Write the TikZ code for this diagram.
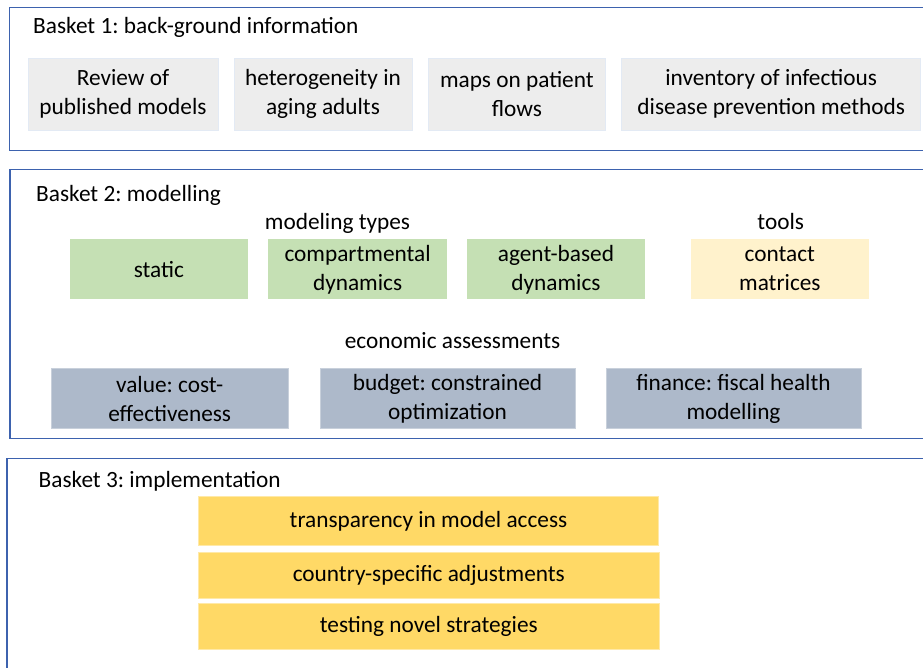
\documentclass[tikz,border=0pt]{standalone}
\usepackage{fontspec}
\setmainfont{Carlito}
\frenchspacing
\begin{document}
\begin{tikzpicture}[x=1pt,y=-1pt,
  frame/.style={draw=framecol,line width=1.2pt},
  box/.style={rectangle,inner sep=0pt,align=center,font=\fontsize{23.3}{29}\selectfont,text=black,line width=1pt},
  bgbox/.style={box,fill=bggrey,draw=bgedge},
  greenbox/.style={box,fill=greenfill,draw=greenfill},
  toolbox/.style={box,fill=toolfill,draw=toolfill},
  ecobox/.style={box,fill=ecofill,draw=ecoedge},
  implbox/.style={box,fill=implfill,draw=impledge},
  lbl/.style={inner sep=0pt,font=\fontsize{23.3}{29}\selectfont,text=black}]
\definecolor{framecol}{HTML}{3D62AE}
\definecolor{bggrey}{HTML}{EDEDED}
\definecolor{bgedge}{HTML}{E3EAF4}
\definecolor{greenfill}{HTML}{C5E0B4}
\definecolor{toolfill}{HTML}{FFF2CC}
\definecolor{ecofill}{HTML}{ADB9CA}
\definecolor{ecoedge}{HTML}{C8D0DB}
\definecolor{implfill}{HTML}{FFD966}
\definecolor{impledge}{HTML}{FFE9A8}
\useasboundingbox (0,0) rectangle (923,667);
\clip (0,0) rectangle (923,667);
\fill[white] (0,0) rectangle (923,667);

% frames
\draw[frame] (9.5,7.3) rectangle (940,150.7);
\draw[frame] (10,169.3) rectangle (940,438.3);
\draw[frame] (7,458.3) rectangle (940,690);

% Basket 1
\node[lbl,anchor=base west] (t1) at (33,33) {Basket 1: back-ground information};
\node[bgbox,minimum width=190pt,minimum height=72pt] (b11) at (123,94) {Review of\\published models};
\node[bgbox,minimum width=178pt,minimum height=72pt] (b12) at (323,94) {heterogeneity in\\aging adults};
\node[bgbox,minimum width=177.7pt,minimum height=72pt] (b13) at (516.85,94) {maps on patient\\flows};
\node[bgbox,minimum width=299pt,minimum height=72pt] (b14) at (771.2,94) {inventory of infectious\\disease prevention methods};

% Basket 2
\node[lbl,anchor=base west] (t2) at (36,201.7) {Basket 2: modelling};
\node[lbl,anchor=base] (mt) at (337.5,229.5) {modeling types};
\node[lbl,anchor=base] (tl) at (780.7,229.3) {tools};
\node[greenbox,minimum width=177.7pt,minimum height=59pt] (g1) at (158.85,269.3) {static};
\node[greenbox,minimum width=177.8pt,minimum height=59pt] (g2) at (357.6,269.3) {compartmental\\dynamics};
\node[greenbox,minimum width=177.4pt,minimum height=59pt] (g3) at (556,269.3) {agent-based\\dynamics};
\node[toolbox,minimum width=177.7pt,minimum height=58.7pt] (c1) at (779.85,268.8) {contact\\matrices};
\node[lbl,anchor=base] (ea) at (452.5,348.3) {economic assessments};
\node[ecobox,minimum width=237.3pt,minimum height=59.2pt] (e1) at (169.65,398.5) {value: cost-\\effectiveness};
\node[ecobox,minimum width=255pt,minimum height=59.2pt] (e2) at (447.5,398.5) {budget: constrained\\optimization};
\node[ecobox,minimum width=255pt,minimum height=59.2pt] (e3) at (733.5,398.5) {finance: fiscal health\\modelling};

% Basket 3
\node[lbl,anchor=base west] (t3) at (38.5,487.7) {Basket 3: implementation};
\node[implbox,minimum width=460.4pt,minimum height=48.6pt] (i1) at (428.5,521) {transparency in model access};
\node[implbox,minimum width=460.4pt,minimum height=46pt] (i2) at (428.8,575) {country-specific adjustments};
\node[implbox,minimum width=460.4pt,minimum height=46.3pt] (i3) at (428.8,626.8) {testing novel strategies};
\end{tikzpicture}
\end{document}
